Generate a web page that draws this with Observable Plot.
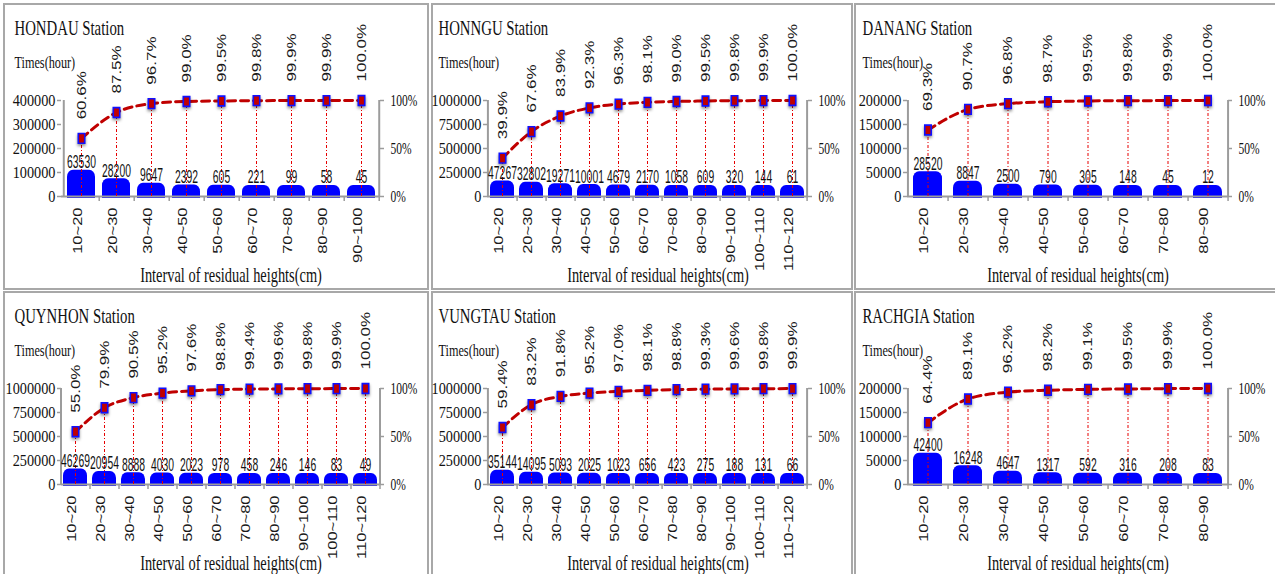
<!DOCTYPE html>
<html>
<head>
<meta charset="utf-8">
<script src="https://cdn.jsdelivr.net/npm/d3@7"></script>
<script src="https://cdn.jsdelivr.net/npm/@observablehq/plot@0.6"></script>
<style>
  html, body { margin: 0; padding: 0; background: #fff; overflow: hidden; }
  #sheet { position: relative; width: 1275px; height: 574px; overflow: hidden; background: #fff; }
  .panel { position: absolute; box-shadow: inset 0 0 0 2px #a8a8a8; }
  .panel svg { display: block; }
</style>
</head>
<body>
<div id="sheet"></div>
<script>
// Interval categories (cm)
const cats8 = ["10~20", "20~30", "30~40", "40~50", "50~60", "60~70", "70~80", "80~90"];
const cats9 = [...cats8, "90~100"];
const cats11 = [...cats9, "100~110", "110~120"];

// Hours per interval and cumulative percentage, per station
const hondauTimes = [63530, 28200, 9647, 2392, 605, 221, 99, 58, 45];
const hondauPct = [60.6, 87.5, 96.7, 99.0, 99.5, 99.8, 99.9, 99.9, 100.0];

const honnguTimes = [47267, 32802, 19271, 10001, 4679, 2170, 1058, 609, 320, 144, 61];
const honnguPct = [39.9, 67.6, 83.9, 92.3, 96.3, 98.1, 99.0, 99.5, 99.8, 99.9, 100.0];

const danangTimes = [28520, 8847, 2500, 790, 305, 148, 45, 12];
const danangPct = [69.3, 90.7, 96.8, 98.7, 99.5, 99.8, 99.9, 100.0];

const quynhonTimes = [46269, 20954, 8888, 4030, 2023, 978, 458, 246, 146, 83, 49];
const quynhonPct = [55.0, 79.9, 90.5, 95.2, 97.6, 98.8, 99.4, 99.6, 99.8, 99.9, 100.0];

const vungtauTimes = [35144, 14095, 5093, 2025, 1023, 656, 423, 275, 188, 131, 66];
const vungtauPct = [59.4, 83.2, 91.8, 95.2, 97.0, 98.1, 98.8, 99.3, 99.6, 99.8, 99.9];

const rachgiaTimes = [42400, 16248, 4647, 1317, 592, 316, 208, 83];
const rachgiaPct = [64.4, 89.1, 96.2, 98.2, 99.1, 99.5, 99.9, 100.0];

// Left-axis maxima (hours)
const axisMax = [400000, 1000000, 200000, 1000000, 1000000, 200000];
const pctTickLabels = ["0%", "50%", "100%"];
const yTitle = "Times(hour)";
const xTitle = "Interval of residual heights(cm)";

const stations = [
  {name: "HONDAU Station", cats: cats9, times: hondauTimes, pct: hondauPct, ymax: axisMax[0]},
  {name: "HONNGU Station", cats: cats11, times: honnguTimes, pct: honnguPct, ymax: axisMax[1]},
  {name: "DANANG Station", cats: cats8, times: danangTimes, pct: danangPct, ymax: axisMax[2]},
  {name: "QUYNHON Station", cats: cats11, times: quynhonTimes, pct: quynhonPct, ymax: axisMax[3]},
  {name: "VUNGTAU Station", cats: cats11, times: vungtauTimes, pct: vungtauPct, ymax: axisMax[4]},
  {name: "RACHGIA Station", cats: cats8, times: rachgiaTimes, pct: rachgiaPct, ymax: axisMax[5]}
];

const SERIF = "Liberation Serif, Times New Roman, serif";
const SANS = "Liberation Sans, Arial, sans-serif";
const GREY = "#9c9c9c";

// Panel grid (the right-hand column runs off the sheet edge)
const columns = [
  {left: 3, width: 426, ml: 58, mr: 49, tx: 11},
  {left: 431, width: 422, ml: 56, mr: 45, tx: 7},
  {left: 854, width: 424, ml: 53, mr: 50, tx: 8}
];
const rowTops = [3, 291];
const H = 287, MT = 97, MB = 94;

// Upright rectangular marker
const marker = {
  draw(ctx, size) {
    const r = Math.sqrt(size / Math.PI);
    ctx.rect(-0.7 * r, -1.06 * r, 1.4 * r, 2.12 * r);
  }
};

// Narrow a text layer horizontally around each label's anchor
function squeeze(svg, layer, sx) {
  svg.querySelectorAll(`g[aria-description="${layer}"] text`).forEach((t) => {
    let tr = t.getAttribute("transform");
    if (!tr) {
      const x = t.getAttribute("x") || 0, y = t.getAttribute("y") || 0;
      t.removeAttribute("x"); t.removeAttribute("y");
      tr = `translate(${x},${y})`;
    }
    if (tr.includes("rotate")) tr = tr.replace("rotate", `scale(${sx},1) rotate`);
    else tr = `${tr} scale(${sx},1)`;
    t.setAttribute("transform", tr);
  });
}

const sheet = document.getElementById("sheet");

stations.forEach((st, k) => {
  const col = columns[k % 3];
  const top = rowTops[Math.floor(k / 3)];
  const W = col.width, ml = col.ml, mr = col.mr;
  const n = st.cats.length;
  const frameW = W - ml - mr, frameH = H - MT - MB;
  const step = frameW / n;
  const pad = n === 8 ? 0.27 : n === 9 ? 0.21 : 0.16;
  const yTicks = d3.range(5).map((i) => (i * st.ymax) / 4);
  const pctTicks = [0, st.ymax / 2, st.ymax];
  const rows = st.cats.map((c, i) => ({cat: c, times: st.times[i], pct: st.pct[i]}));
  const yPct = (d) => (d.pct / 100) * st.ymax;

  const svg = Plot.plot({
    width: W,
    height: H,
    marginLeft: ml,
    marginRight: mr,
    marginTop: MT,
    marginBottom: MB,
    style: {background: "transparent", overflow: "visible", color: "#000"},
    x: {type: "band", domain: st.cats, paddingInner: pad, paddingOuter: pad / 2, axis: null},
    y: {domain: [0, st.ymax], axis: null},
    marks: [
      // bars: rounded cap, then square base
      Plot.barY(rows, {x: "cat", y: "times", fill: "#0000ff", insetTop: -11, insetBottom: -2, rx: 6, ry: 7}),
      Plot.barY(rows, {x: "cat", y: "times", fill: "#0000ff", insetTop: -4, insetBottom: -2}),
      // axes
      Plot.ruleY([0], {stroke: GREY, strokeWidth: 2}),
      Plot.ruleX([st.cats[0]], {dx: -step / 2, stroke: GREY, strokeWidth: 2}),
      Plot.ruleX([st.cats[n - 1]], {dx: step / 2, stroke: GREY, strokeWidth: 2}),
      Plot.ruleY(yTicks, {insetLeft: -4, insetRight: frameW, stroke: GREY, strokeWidth: 1.5}),
      Plot.ruleY(pctTicks, {insetLeft: frameW, insetRight: -4, stroke: GREY, strokeWidth: 1.5}),
      Plot.ruleX(st.cats, {dx: step / 2, insetTop: frameH, insetBottom: -5, stroke: GREY, strokeWidth: 1.5}),
      // drop lines from each cumulative point
      Plot.ruleX(rows, {x: "cat", y1: 0, y2: yPct, stroke: "#e60000", strokeWidth: 1, strokeDasharray: "3,2,1,2"}),
      // cumulative percentage curve
      Plot.line(rows, {x: "cat", y: yPct, stroke: "#c00000", strokeWidth: 3, strokeDasharray: "8,5", curve: "monotone-x"}),
      Plot.dot(rows, {x: "cat", y: yPct, symbol: marker, r: 4.6, fill: "#c00000", stroke: "#1010ff", strokeWidth: 1.6,
        imageFilter: "drop-shadow(0px 2px 1.5px rgba(0,0,0,0.45))"}),
      // value labels
      Plot.text(rows, {x: "cat", y: "times", text: (d) => String(d.times), dy: -13, lineAnchor: "bottom",
        fontFamily: SANS, fontSize: 18.5, fill: "#111", ariaDescription: "count-label"}),
      Plot.text(rows, {x: "cat", y: yPct, text: (d) => d.pct.toFixed(1) + "%", rotate: -90, textAnchor: "start", dy: -19,
        fontFamily: SANS, fontSize: 17, fill: "#1a1a1a", ariaDescription: "pct-label"}),
      // tick labels
      Plot.text(yTicks, {y: (d) => d, text: (d) => String(d), frameAnchor: "left", textAnchor: "end", dx: -6,
        fontFamily: SERIF, fontSize: 17, fill: "#111", ariaDescription: "left-tick-label"}),
      Plot.text(pctTicks, {y: (d) => d, text: (d, i) => pctTickLabels[i], frameAnchor: "right", textAnchor: "start", dx: 10,
        fontFamily: SERIF, fontSize: 16, fill: "#111", ariaDescription: "right-tick-label"}),
      Plot.text(st.cats, {x: (d) => d, text: (d) => d, frameAnchor: "bottom", rotate: -90, textAnchor: "end", dy: 11,
        fontFamily: SANS, fontSize: 16.5, fill: "#1a1a1a", ariaDescription: "x-tick-label"}),
      // titles
      Plot.text([st.name], {text: (d) => d, frameAnchor: "top-left", dx: col.tx - ml, dy: 31 - MT, textAnchor: "start",
        lineAnchor: "bottom", fontFamily: SERIF, fontSize: 20, fill: "#111", ariaDescription: "panel-title"}),
      Plot.text([yTitle], {text: (d) => d, frameAnchor: "top-left", dx: col.tx - ml, dy: 64 - MT, textAnchor: "start",
        lineAnchor: "bottom", fontFamily: SERIF, fontSize: 17, fill: "#111", ariaDescription: "y-title"}),
      Plot.text([xTitle], {text: (d) => d, frameAnchor: "bottom", dx: 10, dy: 278 - (H - MB), lineAnchor: "bottom",
        fontFamily: SERIF, fontSize: 20, fill: "#111", ariaDescription: "x-title"})
    ]
  });

  squeeze(svg, "count-label", 0.56);
  squeeze(svg, "pct-label", 0.75);
  squeeze(svg, "left-tick-label", 0.84);
  squeeze(svg, "right-tick-label", 0.72);
  squeeze(svg, "x-tick-label", 0.8);
  squeeze(svg, "panel-title", 0.74);
  squeeze(svg, "y-title", 0.72);
  squeeze(svg, "x-title", 0.72);

  const div = document.createElement("div");
  div.className = "panel";
  div.style.left = col.left + "px";
  div.style.top = top + "px";
  div.style.width = W + "px";
  div.style.height = H + "px";
  div.appendChild(svg);
  sheet.appendChild(div);
});
</script>
</body>
</html>
